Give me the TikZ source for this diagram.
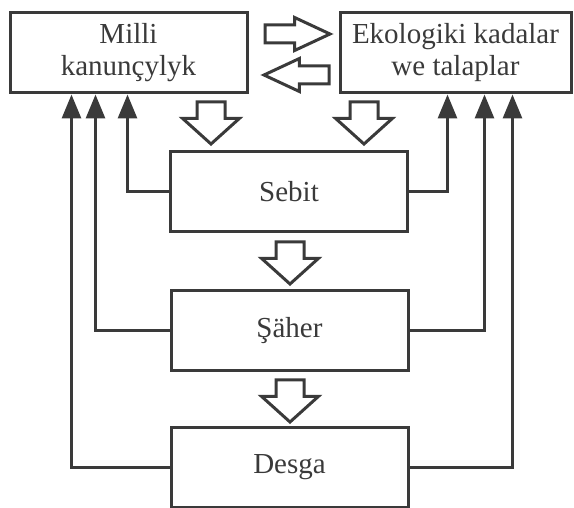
\documentclass[tikz,border=0pt]{standalone}
\usepackage{fontspec}
\setmainfont{Liberation Serif}
\usetikzlibrary{arrows.meta,shapes.arrows}
\definecolor{ink}{HTML}{3A3A3A}
\tikzset{
  box/.style={draw=ink,line width=3pt,rectangle,minimum width=237pt,minimum height=80pt,align=center,text=ink,font=\fontsize{29}{32}\selectfont},
  fb/.style={draw=ink,line width=3pt,-{Triangle[width=19pt,length=24pt]}},
  bigdown/.style={single arrow,draw=ink,line width=3pt,minimum height=42pt,single arrow head extend=14.5pt,single arrow tip angle=96,shape border rotate=270,anchor=tail,inner sep=12.5pt,outer sep=0pt},
  flat/.style={single arrow,draw=ink,line width=3pt,minimum height=65pt,single arrow head extend=7.5pt,single arrow tip angle=50,anchor=tail,inner sep=7.5pt,outer sep=0pt}
}
\begin{document}
\begin{tikzpicture}[x=1pt,y=-1pt]
	\useasboundingbox (0,0) rectangle (574,508);
	\node[box] (milli) at (128.5,53) {Milli\\kanunçylyk};
	\node[box,minimum width=231pt] (ekol) at (455.5,53) {Ekologiki kadalar\\we talaplar};
	\node[box] (sebit) at (289,192) {Sebit};
	\node[box] (saher) at (289.5,330.5) {Şäher};
	\node[box] (desga) at (289.5,467) {Desga};
	\node[flat] (toekol) at (265,34) {};
	\node[flat,shape border rotate=180] (tomilli) at (329,75) {};
	\node[bigdown] (down1) at (211,102) {};
	\node[bigdown] (down2) at (364,102) {};
	\node[bigdown] (down3) at (290,242) {};
	\node[bigdown] (down4) at (290,380) {};
	\draw[fb] (sebit.west) -| ([xshift=119pt]milli.south west);
	\draw[fb] (saher.west) -| ([xshift=87pt]milli.south west);
	\draw[fb] (desga.west) -| ([xshift=63pt]milli.south west);
	\draw[fb] (sebit.east) -| ([xshift=109pt]ekol.south west);
	\draw[fb] (saher.east) -| ([xshift=146pt]ekol.south west);
	\draw[fb] (desga.east) -| ([xshift=174pt]ekol.south west);
\end{tikzpicture}
\end{document}
